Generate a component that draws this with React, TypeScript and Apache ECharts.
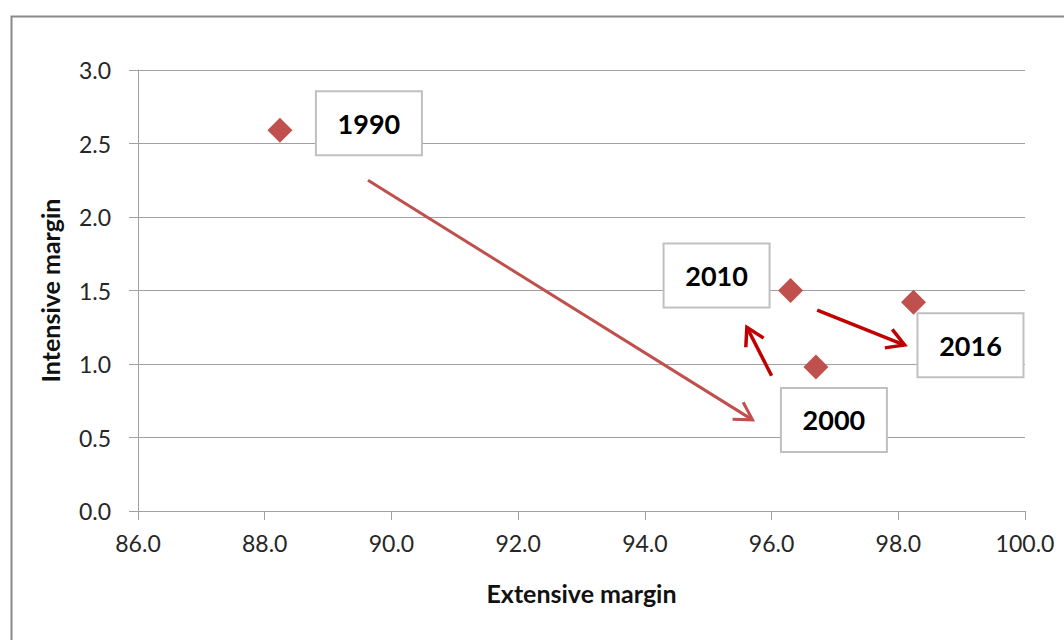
import React, { useEffect, useRef } from "react";
import * as echarts from "echarts";

const years = ["1990", "2000", "2010", "2016"];
const extensive = [88.24, 96.7, 96.3, 98.24];
const intensive = [2.59, 0.98, 1.5, 1.42];
const labelOffsets = [
  [89, -7],
  [18, 53],
  [-74, -15],
  [57, 43],
];
// arrows: [x1, y1, x2, y2] in data units
const arrows = [
  [89.63, 2.25, 95.7, 0.62],
  [96.0, 0.92, 95.61, 1.25],
  [96.72, 1.367, 98.1, 1.129],
];
const arrowColors = ["#c0504d", "#c00000", "#c00000"];
const xTicks = { min: 86, max: 100, interval: 2 };
const yTicks = { min: 0, max: 3, interval: 0.5 };

const FONT = "Lato, 'Open Sans', sans-serif";

export default function App() {
  const ref = useRef<HTMLDivElement>(null);
  useEffect(() => {
    if (!ref.current) return;
    const chart = echarts.init(ref.current, null, { renderer: "svg" });
    const option: any = {
      animation: false,
      backgroundColor: "#ffffff",
      grid: { left: 138, right: 39, top: 70, bottom: 129 },
      graphic: [
        {
          type: "rect",
          left: 9,
          top: 14,
          shape: { width: 1080, height: 660 },
          style: { fill: "none", stroke: "#898989", lineWidth: 2 },
          silent: true,
        },
      ],
      xAxis: {
        type: "value",
        min: xTicks.min,
        max: xTicks.max,
        interval: xTicks.interval,
        name: "Extensive margin",
        nameLocation: "middle",
        nameGap: 69,
        nameTextStyle: { fontFamily: FONT, fontSize: 25, fontWeight: "bold", color: "#111111" },
        axisLine: { show: true, onZero: false, lineStyle: { color: "#a0a0a0", width: 1 } },
        axisTick: { show: true, inside: false, length: 9, lineStyle: { color: "#a0a0a0" } },
        axisLabel: {
          margin: 20,
          fontFamily: FONT,
          fontSize: 23,
          color: "#262626",
          formatter: (v: number) => v.toFixed(1),
        },
        splitLine: { show: false },
      },
      yAxis: {
        type: "value",
        min: yTicks.min,
        max: yTicks.max,
        interval: yTicks.interval,
        name: "Intensive margin",
        nameLocation: "middle",
        nameGap: 76,
        nameTextStyle: { fontFamily: FONT, fontSize: 25, fontWeight: "bold", color: "#111111" },
        axisLine: { show: true, onZero: false, lineStyle: { color: "#a0a0a0", width: 1 } },
        axisTick: { show: true, inside: false, length: 9, lineStyle: { color: "#a0a0a0" } },
        axisLabel: {
          margin: 27,
          fontFamily: FONT,
          fontSize: 23,
          color: "#262626",
          formatter: (v: number) => v.toFixed(1),
        },
        splitLine: { show: true, lineStyle: { color: "#a0a0a0", width: 1 } },
      },
      series: [
        {
          type: "custom",
          coordinateSystem: "cartesian2d",
          encode: { x: [0, 2], y: [1, 3] },
          data: arrows,
          silent: true,
          z: 3,
          renderItem: (params: any, api: any) => {
            const p1 = api.coord([api.value(0), api.value(1)]);
            const p2 = api.coord([api.value(2), api.value(3)]);
            const color = arrowColors[params.dataIndex];
            const w = params.dataIndex === 0 ? 3 : 3.5;
            const ang = Math.atan2(p2[1] - p1[1], p2[0] - p1[0]);
            const L = 20;
            const spread = Math.PI / 6;
            const a1 = [p2[0] - L * Math.cos(ang - spread), p2[1] - L * Math.sin(ang - spread)];
            const a2 = [p2[0] - L * Math.cos(ang + spread), p2[1] - L * Math.sin(ang + spread)];
            return {
              type: "group",
              children: [
                {
                  type: "line",
                  shape: { x1: p1[0], y1: p1[1], x2: p2[0], y2: p2[1] },
                  style: { stroke: color, lineWidth: w, lineCap: "butt" },
                },
                {
                  type: "polyline",
                  shape: { points: [a1, p2, a2] },
                  style: { stroke: color, lineWidth: w, fill: "none", lineJoin: "miter" },
                },
              ],
            };
          },
        },
        {
          type: "scatter",
          symbol: "diamond",
          symbolSize: 25,
          z: 4,
          itemStyle: { color: "#c0504d", opacity: 1 },
          data: years.map((y, i) => ({
            value: [extensive[i], intensive[i]],
            label: {
              show: true,
              position: "inside",
              offset: labelOffsets[i],
              formatter: y,
              width: 104,
              height: 62,
              lineHeight: 62,
              align: "center",
              verticalAlign: "middle",
              backgroundColor: "#ffffff",
              borderColor: "#c0c0c0",
              borderWidth: 2,
              fontFamily: FONT,
              fontSize: 27,
              fontWeight: "bold",
              color: "#000000",
              opacity: 1,
            },
          })),
        },
      ],
    };
    chart.setOption(option);
    return () => chart.dispose();
  }, []);
  return (
    <div
      ref={ref}
      style={{ position: "fixed", left: 0, top: 0, width: 1064, height: 640, background: "#fff" }}
    />
  );
}
